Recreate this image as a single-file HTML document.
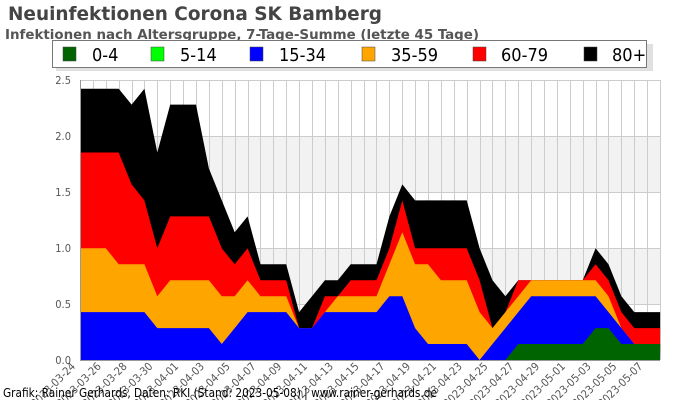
<!DOCTYPE html>
<html><head><meta charset="utf-8"><style>
html,body{margin:0;padding:0;background:#fff;}
svg{display:block;}
text{font-family:"DejaVu Sans Condensed","DejaVu Sans","Liberation Sans",sans-serif;}
</style></head><body>
<svg id="s" width="700" height="400" viewBox="0 0 700 400" xmlns="http://www.w3.org/2000/svg">
<rect x="0" y="0" width="700" height="400" fill="#fff"/>
<rect x="80" y="136" width="580" height="56" fill="#f2f2f2"/>
<rect x="80" y="248" width="580" height="56" fill="#f2f2f2"/>
<g id="grid" stroke="#cccccc" stroke-width="1"></g>
<g id="areas"></g>
<line x1="80.5" y1="80" x2="80.5" y2="360" stroke="#999"/>
<line x1="80" y1="360.5" x2="660" y2="360.5" stroke="#999"/>
<g font-size="11" fill="#555" text-anchor="end">
<text x="71" y="84">2.5</text>
<text x="71" y="140">2.0</text>
<text x="71" y="196">1.5</text>
<text x="71" y="252">1.0</text>
<text x="71" y="308">0.5</text>
<text x="71" y="364">0.0</text>
</g>
<g id="xl" font-size="11" fill="#555" text-anchor="end"></g>
<text x="8" y="20" font-size="19" font-weight="bold" fill="#444" textLength="374" lengthAdjust="spacingAndGlyphs">Neuinfektionen Corona SK Bamberg</text>
<text x="5" y="39" font-size="13" font-weight="bold" fill="#555" textLength="474" lengthAdjust="spacingAndGlyphs">Infektionen nach Altersgruppe, 7-Tage-Summe (letzte 45 Tage)</text>
<rect x="56" y="44" width="597" height="27" fill="#ccc" opacity="0.6"/>
<rect x="52.5" y="40.5" width="594" height="27" fill="#fff" stroke="#777"/>
<g font-size="18" fill="#000">
<rect x="63" y="47" width="13" height="14" fill="#006400" stroke="#444" stroke-width="0.5"/><text x="92" y="61">0-4</text>
<rect x="151" y="47" width="13" height="14" fill="#00ff00" stroke="#444" stroke-width="0.5"/><text x="180" y="61">5-14</text>
<rect x="250" y="47" width="13" height="14" fill="#0000ff" stroke="#444" stroke-width="0.5"/><text x="279" y="61">15-34</text>
<rect x="362" y="47" width="13" height="14" fill="#ffa500" stroke="#444" stroke-width="0.5"/><text x="391" y="61">35-59</text>
<rect x="473" y="47" width="13" height="14" fill="#ff0000" stroke="#444" stroke-width="0.5"/><text x="501" y="61">60-79</text>
<rect x="584" y="47" width="13" height="14" fill="#000" stroke="#444" stroke-width="0.5"/><text x="612" y="61">80+</text>
</g>
<text x="3" y="397" font-size="12" fill="#000" textLength="434" lengthAdjust="spacingAndGlyphs">Grafik: Rainer Gerhards, Daten: RKI (Stand: 2023-05-08) | www.rainer-gerhards.de</text>
</svg>
<script>
(function(){
var NS="http://www.w3.org/2000/svg",step=12.89,k=15.96;
var black=[17,17,17,17,16,17,13,16,16,16,12,10,8,9,6,6,6,3,4,5,5,6,6,6,9,11,10,10,10,10,10,7,5,4,5,5,5,5,5,5,7,6,4,3,3,3];
var red=[13,13,13,13,11,10,7,9,9,9,9,7,6,7,5,5,5,2,2,4,4,5,5,5,7,10,7,7,7,7,7,5,2,3,5,5,5,5,5,5,6,5,3,2,2,2];
var orange=[7,7,7,6,6,6,4,5,5,5,5,4,4,5,4,4,4,2,2,3,4,4,4,4,6,8,6,6,5,5,5,3,2,3,4,5,5,5,5,5,5,4,2,1,1,1];
var blue=[3,3,3,3,3,3,2,2,2,2,2,1,2,3,3,3,3,2,2,3,3,3,3,3,4,4,2,1,1,1,1,0,1,2,3,4,4,4,4,4,4,3,2,1,1,1];
var green=[0,0,0,0,0,0,0,0,0,0,0,0,0,0,0,0,0,0,0,0,0,0,0,0,0,0,0,0,0,0,0,0,0,0,1,1,1,1,1,1,2,2,1,1,1,1];
var g=document.getElementById("grid");
for(var i=0;i<=45;i++){var x=Math.round(80+i*step)+0.5;var l=document.createElementNS(NS,"line");l.setAttribute("x1",x);l.setAttribute("x2",x);l.setAttribute("y1",80);l.setAttribute("y2",360);g.appendChild(l);}
[80,136,192,248,304].forEach(function(y){var l=document.createElementNS(NS,"line");l.setAttribute("x1",80);l.setAttribute("x2",660);l.setAttribute("y1",y+0.5);l.setAttribute("y2",y+0.5);g.appendChild(l);});
var a=document.getElementById("areas");
[[black,"#000"],[red,"#f00"],[orange,"#ffa500"],[blue,"#00f"],[green,"#006400"]].forEach(function(s){
var p="80,360 ";for(var i=0;i<s[0].length;i++){p+=(80+i*step).toFixed(1)+","+(360-s[0][i]*k).toFixed(1)+" ";}
p+="660,360";var e=document.createElementNS(NS,"polygon");e.setAttribute("points",p);e.setAttribute("fill",s[1]);a.appendChild(e);});
var xl=document.getElementById("xl");
var d0=new Date(Date.UTC(2023,2,24));
for(var i=0;i<=44;i+=2){var d=new Date(d0.getTime()+i*86400000);
var t="2023-"+("0"+(d.getUTCMonth()+1)).slice(-2)+"-"+("0"+d.getUTCDate()).slice(-2);
var x=80+i*step-4,y=367;var e=document.createElementNS(NS,"text");e.setAttribute("x",x);e.setAttribute("y",y);
e.setAttribute("transform","rotate(-45 "+x+" "+y+")");e.textContent=t;xl.appendChild(e);}
})();
</script>
</body></html>
